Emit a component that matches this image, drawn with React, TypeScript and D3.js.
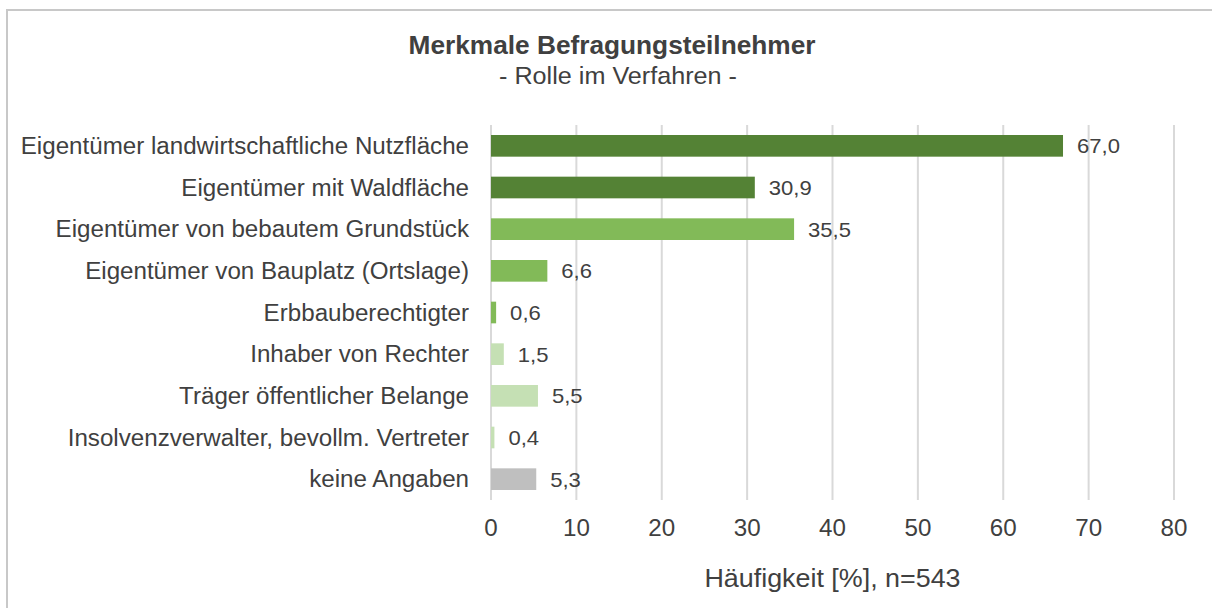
import React from "react";
import * as d3 from "d3";

const categories = [
  "Eigentümer landwirtschaftliche Nutzfläche",
  "Eigentümer mit Waldfläche",
  "Eigentümer von bebautem Grundstück",
  "Eigentümer von Bauplatz (Ortslage)",
  "Erbbauberechtigter",
  "Inhaber von Rechter",
  "Träger öffentlicher Belange",
  "Insolvenzverwalter, bevollm. Vertreter",
  "keine Angaben",
];
const values = [67.0, 30.9, 35.5, 6.6, 0.6, 1.5, 5.5, 0.4, 5.3];
const xTicks = [0, 10, 20, 30, 40, 50, 60, 70, 80];
const title = "Merkmale Befragungsteilnehmer";
const subtitle = "- Rolle im Verfahren -";
const axisTitle = "Häufigkeit [%], n=543";

const BAR_COLORS = [
  "#548235", "#548235", "#82BA58", "#82BA58", "#82BA58",
  "#C5E0B4", "#C5E0B4", "#C5E0B4", "#BFBFBF",
];

const W = 1212;
const H = 608;
const SX = 1.05;
const TXT = "#404040";
const FONT = "'Liberation Sans', Arial, sans-serif";

const de = d3.formatLocale({ decimal: ",", thousands: ".", grouping: [3], currency: ["", "€"] });
const fmt = de.format(".1f");

function T({ x, y, anchor = "start", size, weight = "normal", children }: any) {
  return (
    <text
      transform={`translate(${x},${y}) scale(${SX},1)`}
      textAnchor={anchor}
      fontSize={size}
      fontWeight={weight}
      fill={TXT}
      fontFamily={FONT}
    >
      {children}
    </text>
  );
}

export default function App() {
  const x = d3.scaleLinear().domain([0, 80]).range([491, 1174]);
  const y = d3
    .scaleBand<string>()
    .domain(categories)
    .range([125, 500])
    .paddingInner(0.48)
    .paddingOuter(0.24);
  const [y0, y1] = y.range();
  const cx = (x(0) + x(80)) / 2;

  return (
    <svg
      width={W}
      height={H}
      style={{ position: "absolute", left: 0, top: 0, background: "#fff" }}
    >
      <rect x={7} y={10} width={1230} height={620} fill="#fff" stroke="#c8c8c8" strokeWidth={2} />
      <T x={612} y={54} anchor="middle" size={25} weight="bold">{title}</T>
      <T x={618} y={84} anchor="middle" size={24}>{subtitle}</T>

      {xTicks.map((t) => (
        <line key={"g" + t} x1={x(t)} x2={x(t)} y1={y0} y2={y1} stroke="#d9d9d9" strokeWidth={2} />
      ))}

      {categories.map((c, i) => {
        const v = values[i];
        const by = y(c)!;
        const bh = y.bandwidth();
        return (
          <g key={c}>
            <rect x={x(0)} y={by} width={x(v) - x(0)} height={bh} fill={BAR_COLORS[i]} />
            <T x={x(v) + 14} y={by + bh / 2 + 7.5} size={21}>{fmt(v)}</T>
            <T x={x(0) - 22} y={by + bh / 2 + 8} anchor="end" size={23}>{c}</T>
          </g>
        );
      })}

      {xTicks.map((t) => (
        <T key={"t" + t} x={x(t)} y={536} anchor="middle" size={23}>{t}</T>
      ))}

      <T x={cx} y={587} anchor="middle" size={25.6}>{axisTitle}</T>
    </svg>
  );
}
